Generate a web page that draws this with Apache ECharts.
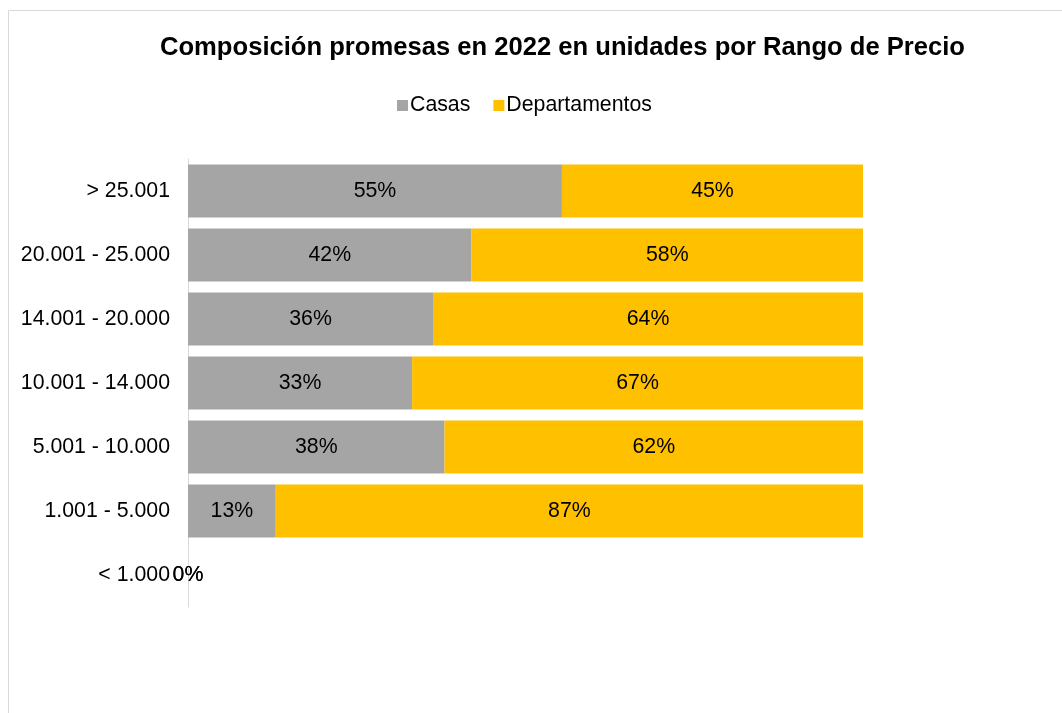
<!DOCTYPE html>
<html>
<head>
<meta charset="utf-8">
<script src="https://cdn.jsdelivr.net/npm/echarts@6/dist/echarts.min.js"></script>
<style>html,body{margin:0;padding:0;background:#fff;}#c{width:1062px;height:713px;}</style>
</head>
<body>
<div id="c"></div>
<script>
const categories = ["< 1.000", "1.001 - 5.000", "5.001 - 10.000", "10.001 - 14.000", "14.001 - 20.000", "20.001 - 25.000", "> 25.001"];
const casas = [0, 13, 38, 33.2, 36.3, 42, 55.4];
const departamentos = [0, 87, 62, 66.8, 63.7, 58, 44.6];

const chart = echarts.init(document.getElementById('c'));
const font = "'Liberation Sans', Arial, sans-serif";
const pct = p => Math.round(p.value) + '%';
chart.setOption({
  animation: false,
  textStyle: { fontFamily: font },
  title: {
    text: 'Composición promesas en 2022 en unidades por Rango de Precio',
    left: 155, top: 30,
    textStyle: { fontFamily: font, fontSize: 25.6, fontWeight: 'bold', color: '#000' }
  },
  legend: {
    top: 90, left: 392,
    itemWidth: 11, itemHeight: 11, itemGap: 23,
    icon: 'rect',
    textStyle: { fontFamily: font, fontSize: 21.3, color: '#000', padding: [0, 0, 0, -3] },
    data: ['Casas', 'Departamentos']
  },
  graphic: [{
    type: 'rect', silent: true,
    shape: { x: 8.5, y: 10.5, width: 1100, height: 800 },
    style: { fill: 'none', stroke: '#d9d9d9', lineWidth: 1 }
  }],
  grid: { left: 188, right: 199, top: 159, bottom: 106, containLabel: false },
  xAxis: {
    type: 'value', min: 0, max: 100, show: false
  },
  yAxis: {
    type: 'category', data: categories,
    axisLine: { show: true, lineStyle: { color: '#d9d9d9', width: 1 } },
    axisTick: { show: false },
    axisLabel: { fontFamily: font, fontSize: 21.3, color: '#000', margin: 18 }
  },
  series: [
    {
      name: 'Casas', type: 'bar', stack: 'total', data: casas, barCategoryGap: '17%',
      itemStyle: { color: '#A5A5A5' },
      label: { show: true, position: 'inside', formatter: pct, fontFamily: font, fontSize: 21.3, color: '#000' }
    },
    {
      name: 'Departamentos', type: 'bar', stack: 'total', data: departamentos, barCategoryGap: '17%',
      itemStyle: { color: '#FFC000' },
      label: { show: true, position: 'inside', formatter: pct, fontFamily: font, fontSize: 21.3, color: '#000' }
    }
  ]
});
</script>
</body>
</html>
